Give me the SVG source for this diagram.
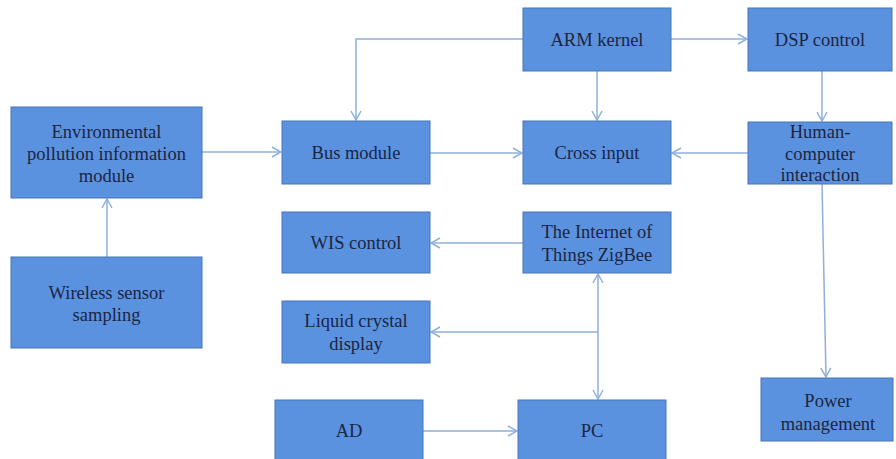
<svg xmlns="http://www.w3.org/2000/svg" width="896" height="459" viewBox="0 0 896 459">
<style>
.box{fill:#5b92e0;stroke:#4675b5;stroke-width:1}
text{font-family:'Liberation Serif','Times New Roman','DejaVu Serif',serif;font-size:18.5px;fill:#1c2540;text-anchor:middle}
.c{fill:none;stroke:#8fb0dc;stroke-width:1.5}
</style>
<defs>
<marker id="a" viewBox="0 0 12 12" refX="11" refY="6" markerWidth="12" markerHeight="12" markerUnits="userSpaceOnUse" orient="auto">
<path d="M2,1 L11,6 L2,11" fill="none" stroke="#8fb0dc" stroke-width="1.5"/>
</marker>
</defs>
<rect width="896" height="459" fill="#fff"/>
<g id="connectors">
<path class="c" d="M202,152 H281" marker-end="url(#a)"/>
<path class="c" d="M107,257 V199" marker-end="url(#a)"/>
<path class="c" d="M523,39 H356 V120" marker-end="url(#a)"/>
<path class="c" d="M597,71 V120" marker-end="url(#a)"/>
<path class="c" d="M430,153 H522" marker-end="url(#a)"/>
<path class="c" d="M671,39 H747" marker-end="url(#a)"/>
<path class="c" d="M822,71 V121" marker-end="url(#a)"/>
<path class="c" d="M748,153 H672" marker-end="url(#a)"/>
<path class="c" d="M822,184 L826,377" marker-end="url(#a)"/>
<path class="c" d="M523,243 H431" marker-end="url(#a)"/>
<path class="c" d="M598,332 V274" marker-end="url(#a)"/>
<path class="c" d="M598,332 H431" marker-end="url(#a)"/>
<path class="c" d="M598,332 V399" marker-end="url(#a)"/>
<path class="c" d="M423,431 H517" marker-end="url(#a)"/>
</g>
<g id="env"><rect class="box" x="11" y="107" width="191" height="91"/>
<text x="106.5" y="138">Environmental</text><text x="106.5" y="160">pollution information</text><text x="106.5" y="182">module</text></g>
<g id="wireless"><rect class="box" x="11" y="257" width="191" height="91"/>
<text x="106.5" y="299">Wireless sensor</text><text x="106.5" y="321">sampling</text></g>
<g id="bus"><rect class="box" x="282" y="121" width="148" height="63"/>
<text x="356" y="159">Bus module</text></g>
<g id="arm"><rect class="box" x="523" y="8" width="148" height="63"/>
<text x="597" y="46">ARM kernel</text></g>
<g id="cross"><rect class="box" x="523" y="121" width="148" height="63"/>
<text x="597" y="159">Cross input</text></g>
<g id="dsp"><rect class="box" x="748" y="8" width="144" height="63"/>
<text x="820" y="46">DSP control</text></g>
<g id="hci"><rect class="box" x="748" y="122" width="144" height="62"/>
<text x="820" y="138">Human-</text><text x="820" y="160">computer</text><text x="820" y="181">interaction</text></g>
<g id="wis"><rect class="box" x="282" y="212" width="148" height="61"/>
<text x="356" y="249">WIS control</text></g>
<g id="iot"><rect class="box" x="523" y="212" width="148" height="61"/>
<text x="597" y="238">The Internet of</text><text x="597" y="261">Things ZigBee</text></g>
<g id="lcd"><rect class="box" x="282" y="301" width="148" height="62"/>
<text x="356" y="327">Liquid crystal</text><text x="356" y="350">display</text></g>
<g id="ad"><rect class="box" x="275" y="400" width="148" height="64"/>
<text x="349" y="437">AD</text></g>
<g id="pc"><rect class="box" x="518" y="400" width="148" height="64"/>
<text x="592" y="437">PC</text></g>
<g id="power"><rect class="box" x="761" y="378" width="132" height="63"/>
<text x="828" y="407">Power</text><text x="828" y="430">management</text></g>
</svg>
